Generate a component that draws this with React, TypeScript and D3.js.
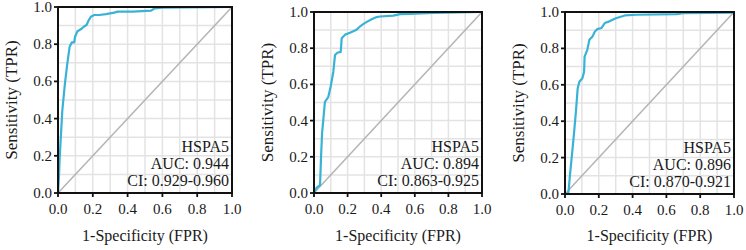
import React from "react";
import * as d3 from "d3";

const W = 746;
const H = 250;

const tickValues = [0, 0.2, 0.4, 0.6, 0.8, 1.0];
const gridValues = [0, 0.1, 0.2, 0.3, 0.4, 0.5, 0.6, 0.7, 0.8, 0.9, 1.0];

const geneNames = ["HSPA5", "HSPA5", "HSPA5"];
const aucLabels = ["AUC: 0.944", "AUC: 0.894", "AUC: 0.896"];
const ciLabels = ["CI: 0.929-0.960", "CI: 0.863-0.925", "CI: 0.870-0.921"];

const fpr1 = [0, 0.005, 0.01, 0.018, 0.025, 0.04, 0.054, 0.067, 0.08, 0.093, 0.098, 0.112, 0.131, 0.15, 0.164, 0.175, 0.189, 0.208, 0.237, 0.276, 0.323, 0.343, 0.43, 0.535, 0.555, 0.6, 1.0];
const tpr1 = [0, 0.08, 0.195, 0.33, 0.446, 0.59, 0.70, 0.787, 0.81, 0.81, 0.84, 0.87, 0.88, 0.895, 0.903, 0.926, 0.948, 0.957, 0.957, 0.962, 0.97, 0.975, 0.975, 0.98, 0.993, 0.996, 1.0];

const fpr2 = [0, 0.016, 0.036, 0.042, 0.048, 0.055, 0.065, 0.085, 0.099, 0.115, 0.125, 0.139, 0.159, 0.165, 0.185, 0.214, 0.25, 0.274, 0.304, 0.343, 0.373, 0.393, 0.472, 0.512, 0.571, 0.71, 1.0];
const tpr2 = [0, 0.03, 0.044, 0.2, 0.33, 0.40, 0.504, 0.53, 0.587, 0.67, 0.762, 0.775, 0.78, 0.855, 0.875, 0.885, 0.9, 0.92, 0.94, 0.96, 0.972, 0.975, 0.98, 0.988, 0.99, 0.995, 1.0];

const fpr3 = [0, 0.02, 0.03, 0.04, 0.053, 0.065, 0.075, 0.085, 0.103, 0.113, 0.116, 0.132, 0.144, 0.163, 0.177, 0.191, 0.216, 0.236, 0.266, 0.301, 0.354, 0.423, 0.66, 0.7, 1.0, 1.0];
const tpr3 = [0, 0.005, 0.11, 0.204, 0.33, 0.457, 0.58, 0.617, 0.636, 0.672, 0.755, 0.792, 0.847, 0.866, 0.893, 0.906, 0.912, 0.94, 0.95, 0.966, 0.981, 0.985, 0.988, 0.994, 0.996, 1.0];

const fprSeries = [fpr1, fpr2, fpr3];
const tprSeries = [tpr1, tpr2, tpr3];

const panelBoxes = [
  { left: 58, right: 232, top: 7, bottom: 193 },
  { left: 314, right: 482, top: 12, bottom: 193 },
  { left: 565, right: 734, top: 12, bottom: 194 },
];

const FONT = "'Liberation Serif', 'Times New Roman', serif";
const ROC_COLOR = "#38b3d6";
const TXT = "#1a1a1a";

function Panel({ idx }: { idx: number }) {
  const b = panelBoxes[idx];
  const x = d3.scaleLinear().domain([0, 1]).range([b.left, b.right]);
  const y = d3.scaleLinear().domain([0, 1]).range([b.bottom, b.top]);
  const pts: [number, number][] = fprSeries[idx].map((f, i) => [f, tprSeries[idx][i]]);
  const line = d3
    .line<[number, number]>()
    .x((d) => x(d[0]))
    .y((d) => y(d[1]));
  const diag = line([
    [0, 0],
    [1, 1],
  ]);
  const cx = (b.left + b.right) / 2;
  const cy = (b.top + b.bottom) / 2;
  return (
    <g>
      <rect x={b.left} y={b.top} width={b.right - b.left} height={b.bottom - b.top} fill="#fff" />
      {gridValues.map((v) => (
        <g key={"g" + v}>
          <line x1={x(v)} x2={x(v)} y1={b.top} y2={b.bottom} stroke="#e3e3e3" strokeWidth={1.5} />
          <line x1={b.left} x2={b.right} y1={y(v)} y2={y(v)} stroke="#e3e3e3" strokeWidth={1.5} />
        </g>
      ))}
      <path d={diag || ""} stroke="#b4b4b4" strokeWidth={1.5} fill="none" />
      <path d={line(pts) || ""} stroke={ROC_COLOR} strokeWidth={2.2} fill="none" strokeLinejoin="round" />
      <rect
        x={b.left}
        y={b.top}
        width={b.right - b.left}
        height={b.bottom - b.top}
        fill="none"
        stroke="#111"
        strokeWidth={2}
      />
      {tickValues.map((v) => (
        <g key={"t" + v}>
          <line x1={x(v)} x2={x(v)} y1={b.bottom} y2={b.bottom + 4} stroke="#111" strokeWidth={1.8} />
          <text
            x={x(v)}
            y={b.bottom + 21}
            textAnchor="middle"
            fontFamily={FONT}
            fontSize={15}
            fill={TXT}
          >
            {d3.format(".1f")(v)}
          </text>
          <line x1={b.left - 4} x2={b.left} y1={y(v)} y2={y(v)} stroke="#111" strokeWidth={1.8} />
          <text
            x={b.left - 6}
            y={y(v) + 5}
            textAnchor="end"
            fontFamily={FONT}
            fontSize={15}
            fill={TXT}
          >
            {d3.format(".1f")(v)}
          </text>
        </g>
      ))}
      <text x={cx} y={241} textAnchor="middle" fontFamily={FONT} fontSize={16} fill={TXT}>
        1-Specificity (FPR)
      </text>
      <text
        transform={`translate(${b.left - 41},${cy}) rotate(-90)`}
        textAnchor="middle"
        fontFamily={FONT}
        fontSize={17}
        fill={TXT}
      >
        Sensitivity (TPR)
      </text>
      <text x={b.right - 3} y={b.bottom - 41} textAnchor="end" fontFamily={FONT} fontSize={16} fill={TXT}>
        {geneNames[idx]}
      </text>
      <text x={b.right - 3} y={b.bottom - 24} textAnchor="end" fontFamily={FONT} fontSize={16} fill={TXT}>
        {aucLabels[idx]}
      </text>
      <text x={b.right - 3} y={b.bottom - 7} textAnchor="end" fontFamily={FONT} fontSize={16} fill={TXT}>
        {ciLabels[idx]}
      </text>
    </g>
  );
}

export default function App() {
  return (
    <svg
      width={W}
      height={H}
      style={{ position: "absolute", left: 0, top: 0, background: "#fff" }}
    >
      <rect x={0} y={0} width={W} height={H} fill="#fff" />
      {[0, 1, 2].map((i) => (
        <Panel key={i} idx={i} />
      ))}
    </svg>
  );
}
